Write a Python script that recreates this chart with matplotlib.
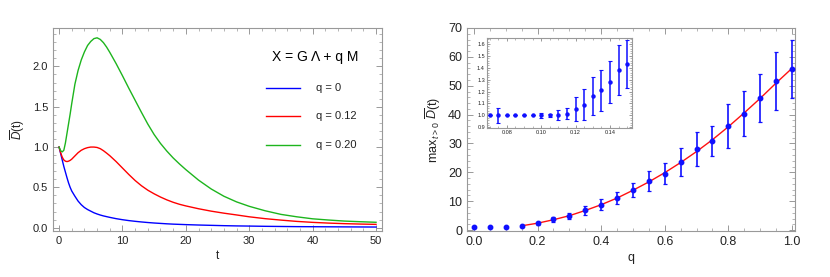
import matplotlib
matplotlib.use("Agg")
import matplotlib.pyplot as plt
from matplotlib.ticker import MultipleLocator, FormatStrFormatter

plt.rcParams['font.family'] = ['Liberation Sans', 'DejaVu Sans']
plt.rcParams['mathtext.fontset'] = 'custom'
plt.rcParams['mathtext.rm'] = 'Liberation Sans'
plt.rcParams['mathtext.it'] = 'Liberation Sans:italic'

# ---- left panel data ----
t_vals = [0, 0.25, 0.5, 0.75, 1, 1.25, 1.5, 1.75, 2, 2.5, 3, 3.5, 4, 4.5, 5, 5.5, 6, 6.5, 7, 7.5, 8,
          9, 10, 11, 12, 13, 14, 15, 16, 17, 18, 19, 20, 22, 24, 26, 28, 30, 32.5, 35, 37.5, 40,
          42.5, 45, 47.5, 50]
d_q0 = [1.0, 0.92, 0.84, 0.76, 0.69, 0.62, 0.555, 0.50, 0.455, 0.39, 0.33, 0.285, 0.25, 0.225, 0.205,
        0.185, 0.17, 0.157, 0.146, 0.137, 0.128, 0.112, 0.099, 0.088, 0.079, 0.071, 0.064, 0.058,
        0.053, 0.048, 0.044, 0.041, 0.038, 0.033, 0.029, 0.025, 0.022, 0.02, 0.017, 0.015, 0.013,
        0.012, 0.011, 0.01, 0.009, 0.008]
d_q012 = [1.0, 0.93, 0.875, 0.84, 0.825, 0.82, 0.825, 0.835, 0.85, 0.89, 0.93, 0.96, 0.98, 0.993, 1.0,
          1.0, 0.995, 0.98, 0.955, 0.925, 0.893, 0.82, 0.74, 0.66, 0.585, 0.52, 0.465, 0.42, 0.38,
          0.345, 0.315, 0.29, 0.27, 0.235, 0.205, 0.18, 0.158, 0.135, 0.112, 0.094, 0.078, 0.066,
          0.057, 0.05, 0.045, 0.041]
d_q020 = [1.0, 0.955, 0.94, 0.96, 1.05, 1.17, 1.29, 1.41, 1.54, 1.78, 1.95, 2.08, 2.18, 2.26, 2.31,
          2.345, 2.355, 2.335, 2.295, 2.24, 2.175, 2.035, 1.885, 1.73, 1.58, 1.43, 1.285, 1.155, 1.045,
          0.95, 0.865, 0.79, 0.72, 0.59, 0.48, 0.39, 0.32, 0.265, 0.21, 0.165, 0.135, 0.11, 0.095,
          0.082, 0.074, 0.067]
legend_title = "X = G \u039b + q M"
series_labels = ["q = 0", "q = 0.12", "q = 0.20"]
series_colors = ["#0000ff", "#ff0000", "#1db51d"]

# ---- right panel data ----
q_vals = [0.0, 0.05, 0.10, 0.15, 0.20, 0.25, 0.30, 0.35, 0.40, 0.45, 0.50, 0.55, 0.60, 0.65, 0.70,
          0.75, 0.80, 0.85, 0.90, 0.95, 1.00]
max_d = [1.0, 1.0, 1.0, 1.45, 2.4, 3.7, 5.0, 6.8, 8.8, 11.1, 13.9, 17.0, 19.6, 23.5, 28.1, 31.0, 36.1,
         40.3, 45.8, 51.7, 55.8]
max_err = [0.0, 0.0, 0.0, 0.2, 0.5, 0.8, 1.0, 1.6, 1.9, 2.2, 2.4, 3.4, 3.7, 4.8, 5.8, 5.2, 7.6, 7.8, 8.3,
           10.1, 10.0]
fit_q = [0.15, 0.20, 0.25, 0.30, 0.35, 0.40, 0.45, 0.50, 0.55, 0.60, 0.65, 0.70, 0.75, 0.80, 0.85, 0.90,
         0.95, 1.00]
fit_d = [1.5, 2.4, 3.6, 5.0, 6.8, 8.8, 11.1, 13.8, 16.7, 19.9, 23.4, 27.2, 31.3, 35.8, 40.6, 45.6, 50.9, 56.0]

# ---- inset data ----
qi_vals = [0.070, 0.075, 0.080, 0.085, 0.090, 0.095, 0.100, 0.105, 0.110, 0.115, 0.120, 0.125, 0.130,
           0.135, 0.140, 0.145, 0.150]
di_vals = [1.0, 1.0, 1.0, 1.0, 1.0, 1.0, 1.0, 1.0, 1.005, 1.015, 1.053, 1.09, 1.16, 1.21, 1.28, 1.38, 1.433]
di_err = [0.0, 0.065, 0.0, 0.0, 0.0, 0.0, 0.02, 0.015, 0.04, 0.045, 0.1, 0.13, 0.16, 0.175, 0.18, 0.21, 0.2]

frame_col = "#999999"
text_col = "#222222"
pt_col = "#1010ff"


def style(ax, fs):
    for s in ax.spines.values():
        s.set_color(frame_col)
        s.set_linewidth(0.8)
    ax.tick_params(which='both', direction='in', top=True, right=True, color=frame_col,
                   labelcolor=text_col, labelsize=fs)
    ax.tick_params(which='major', length=4, width=0.7)
    ax.tick_params(which='minor', length=2, width=0.5)


fig = plt.figure(figsize=(8.30, 2.77), dpi=100)

# left
ax1 = fig.add_axes([0.0639, 0.1661, 0.3964, 0.7329])
ax1.plot(t_vals, d_q0, color=series_colors[0], lw=1.0)
ax1.plot(t_vals, d_q012, color=series_colors[1], lw=1.0)
ax1.plot(t_vals, d_q020, color=series_colors[2], lw=1.0)
ax1.set_xlim(-0.95, 50.95)
ax1.set_ylim(-0.041, 2.477)
ax1.xaxis.set_major_locator(MultipleLocator(10))
ax1.xaxis.set_minor_locator(MultipleLocator(2))
ax1.yaxis.set_major_locator(MultipleLocator(0.5))
ax1.yaxis.set_minor_locator(MultipleLocator(0.1))
ax1.yaxis.set_major_formatter(FormatStrFormatter('%.1f'))
style(ax1, 8)
ax1.set_xlabel("t", fontsize=8.5, color=text_col, labelpad=3)
ax1.set_ylabel(r"$\overline{\mathit{D}}$(t)", fontsize=8.5, color=text_col, labelpad=4)

# legend drawn manually inside the axes
ax1.text(0.667, 0.855, legend_title, transform=ax1.transAxes, fontsize=10, color='black',
         ha='left', va='center')
leg_y = [0.705, 0.565, 0.425]
for yy, lab, col in zip(leg_y, series_labels, series_colors):
    ax1.plot([0.647, 0.752], [yy, yy], transform=ax1.transAxes, color=col, lw=1.0)
    ax1.text(0.80, yy, lab, transform=ax1.transAxes, fontsize=8, color=text_col,
             ha='left', va='center')

# right
ax2 = fig.add_axes([0.5627, 0.1661, 0.3952, 0.7329])
ax2.plot(fit_q, fit_d, color='#ff1010', lw=1.0, zorder=2)
ax2.errorbar(q_vals, max_d, yerr=max_err, fmt='o', color=pt_col, ms=3.2, elinewidth=1.2,
             capsize=1.6, capthick=0.9, zorder=3)
ax2.set_xlim(-0.022, 1.01)
ax2.set_ylim(-0.3, 70)
ax2.xaxis.set_major_locator(MultipleLocator(0.2))
ax2.xaxis.set_minor_locator(MultipleLocator(0.05))
ax2.yaxis.set_major_locator(MultipleLocator(10))
ax2.yaxis.set_minor_locator(MultipleLocator(2))
ax2.xaxis.set_major_formatter(FormatStrFormatter('%.1f'))
style(ax2, 9)
ax2.set_xlabel("q", fontsize=9, color=text_col, labelpad=3)
ax2.set_ylabel(r"max$_{\,t>0}$ $\overline{\mathit{D}}$(t)", fontsize=9, color=text_col, labelpad=4)

# inset
ax3 = fig.add_axes([0.5867, 0.5379, 0.1747, 0.3249])
ax3.errorbar(qi_vals, di_vals, yerr=di_err, fmt='o', color=pt_col, ms=2.2, elinewidth=1.1,
             capsize=1.3, capthick=0.8)
ax3.set_xlim(0.0685, 0.1528)
ax3.set_ylim(0.894, 1.65)
ax3.xaxis.set_major_locator(MultipleLocator(0.02))
ax3.xaxis.set_minor_locator(MultipleLocator(0.005))
ax3.yaxis.set_major_locator(MultipleLocator(0.1))
ax3.yaxis.set_minor_locator(MultipleLocator(0.02))
ax3.xaxis.set_major_formatter(FormatStrFormatter('%.2f'))
ax3.yaxis.set_major_formatter(FormatStrFormatter('%.1f'))
style(ax3, 4)
ax3.tick_params(which='major', length=2.5, pad=1.5)
ax3.tick_params(which='minor', length=1.2)
ax3.set_facecolor('white')

fig.savefig("out.png", dpi=100)
